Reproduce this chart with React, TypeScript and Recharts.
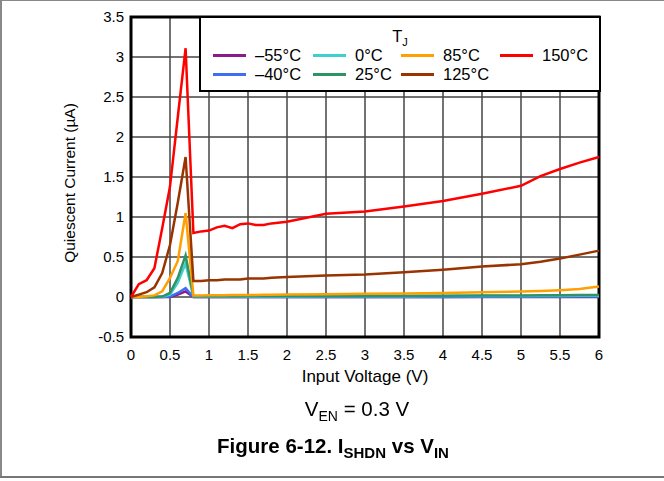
import React from 'react';
import { CartesianGrid, Line, LineChart, ReferenceArea, XAxis, YAxis } from 'recharts';

const vin = [0, 0.1, 0.2, 0.3, 0.4, 0.5, 0.6, 0.7, 0.8, 0.9, 1.0, 1.1, 1.2, 1.3, 1.4, 1.5, 1.6, 1.7, 1.8, 2.0, 2.5, 3.0, 3.5, 4.0, 4.5, 5.0, 5.25, 5.5, 5.75, 6.0];

const iqM55 = [0, 0, 0, 0, 0, 0, 0.03, 0.07, 0, 0, 0, 0, 0, 0, 0, 0, 0, 0, 0, 0, 0, 0, 0, 0, 0, 0, 0, 0, 0, 0];
const iqM40 = [0, 0, 0, 0, 0, 0.005, 0.05, 0.11, 0, 0, 0, 0, 0, 0, 0, 0, 0, 0, 0, 0, 0, 0, 0, 0, 0.003, 0.004, 0.005, 0.005, 0.005, 0.005];
const iq0 = [0, 0, 0, 0, 0.003, 0.03, 0.18, 0.42, 0.005, 0.005, 0.005, 0.005, 0.005, 0.005, 0.005, 0.005, 0.006, 0.006, 0.006, 0.007, 0.008, 0.009, 0.01, 0.011, 0.012, 0.013, 0.014, 0.014, 0.015, 0.015];
const iq25 = [0, 0, 0, 0, 0.005, 0.05, 0.24, 0.52, 0.01, 0.01, 0.01, 0.01, 0.01, 0.01, 0.01, 0.011, 0.011, 0.011, 0.011, 0.012, 0.013, 0.014, 0.015, 0.016, 0.018, 0.02, 0.021, 0.022, 0.024, 0.026];
const iq85 = [0, 0, 0.01, 0.02, 0.07, 0.24, 0.45, 1.05, 0.02, 0.02, 0.022, 0.022, 0.023, 0.024, 0.025, 0.025, 0.026, 0.027, 0.028, 0.03, 0.035, 0.04, 0.045, 0.05, 0.06, 0.07, 0.075, 0.085, 0.1, 0.13];
const iq125 = [0, 0.03, 0.06, 0.12, 0.3, 0.65, 1.18, 1.75, 0.2, 0.2, 0.21, 0.21, 0.22, 0.22, 0.22, 0.23, 0.23, 0.23, 0.24, 0.25, 0.27, 0.28, 0.31, 0.34, 0.38, 0.41, 0.44, 0.48, 0.53, 0.58];
const iq150 = [0, 0.16, 0.21, 0.36, 0.86, 1.38, 2.25, 3.11, 0.8, 0.82, 0.83, 0.87, 0.89, 0.86, 0.91, 0.92, 0.9, 0.9, 0.92, 0.94, 1.04, 1.07, 1.13, 1.2, 1.29, 1.39, 1.51, 1.6, 1.68, 1.75];

const xTicks = [0, 0.5, 1, 1.5, 2, 2.5, 3, 3.5, 4, 4.5, 5, 5.5, 6];
const yTicks = [-0.5, 0, 0.5, 1, 1.5, 2, 2.5, 3, 3.5];

const series = [
  { key: 'm55', name: '\u201355\u00b0C', color: '#8b1a8b', values: iqM55 },
  { key: 'm40', name: '\u201340\u00b0C', color: '#3d6ff0', values: iqM40 },
  { key: 't0', name: '0\u00b0C', color: '#3fcfcf', values: iq0 },
  { key: 't25', name: '25\u00b0C', color: '#2e9466', values: iq25 },
  { key: 't85', name: '85\u00b0C', color: '#ffa000', values: iq85 },
  { key: 't125', name: '125\u00b0C', color: '#993300', values: iq125 },
  { key: 't150', name: '150\u00b0C', color: '#ff0000', values: iq150 },
];

// legend order: column-major, two rows
const legendCols = [
  ['m55', 'm40'],
  ['t0', 't25'],
  ['t85', 't125'],
  ['t150'],
];
const legendColX = [12, 112, 200, 299];

const data = vin.map((v, i) => {
  const row: Record<string, number> = { vin: v };
  series.forEach((s) => {
    row[s.key] = s.values[i];
  });
  return row;
});

const font = '"Liberation Sans", Arial, Helvetica, sans-serif';

function LegendBox() {
  return (
    <div
      style={{
        position: 'absolute',
        left: 199,
        top: 16,
        width: 402,
        height: 76,
        background: '#fff',
        border: '2px solid #000',
        boxSizing: 'border-box',
        fontSize: 16.5,
        color: '#000',
      }}
    >
      <div style={{ position: 'absolute', left: 0, width: '100%', top: 9, textAlign: 'center', lineHeight: '18px' }}>
        T<sub style={{ fontSize: 11, verticalAlign: -4 }}>J</sub>
      </div>
      {legendCols.map((col, ci) =>
        col.map((k, ri) => {
          const s = series.find((q) => q.key === k)!;
          return (
            <div key={k} style={{ position: 'absolute', left: legendColX[ci], top: 28 + ri * 19, height: 18, display: 'flex', alignItems: 'center', whiteSpace: 'nowrap' }}>
              <span style={{ display: 'inline-block', width: 33, height: 3, background: s.color, marginRight: 9 }} />
              <span>{s.name}</span>
            </div>
          );
        })
      )}
    </div>
  );
}

export default function App() {
  return (
    <div style={{ position: 'fixed', left: 0, top: 0, width: 664, height: 481, background: '#fff', fontFamily: font }}>
      <LineChart width={664} height={481} data={data} margin={{ top: 17, right: 65, bottom: 114, left: 91 }}>
        <CartesianGrid stroke="#444" strokeWidth={1.5} horizontalValues={yTicks} verticalValues={xTicks} />
        <XAxis
          dataKey="vin"
          type="number"
          domain={[0, 6]}
          ticks={xTicks}
          axisLine={false}
          tickLine={false}
          tickSize={5}
          tickMargin={7}
          height={30}
          tick={{ fill: '#000', fontSize: 15, fontFamily: font }}
        />
        <YAxis
          type="number"
          domain={[-0.5, 3.5]}
          ticks={yTicks}
          axisLine={false}
          tickLine={false}
          tickSize={5}
          tickMargin={2}
          width={40}
          tick={{ fill: '#000', fontSize: 15, fontFamily: font }}
        />
        {series.map((s) => (
          <Line
            key={s.key}
            dataKey={s.key}
            name={s.name}
            stroke={s.color}
            strokeWidth={2.5}
            dot={false}
            type="linear"
            isAnimationActive={false}
          />
        ))}
        <ReferenceArea x1={0} x2={6} y1={-0.5} y2={3.5} fill="none" stroke="#000" strokeWidth={3} ifOverflow="visible" />
      </LineChart>
      <LegendBox />
      <div
        style={{
          position: 'absolute',
          left: 70,
          top: 183,
          transform: 'translate(-50%, -50%) rotate(-90deg)',
          whiteSpace: 'nowrap',
          fontSize: 15.5,
        }}
      >
        Quiescent Current (µA)
      </div>
      <div style={{ position: 'absolute', left: 131, width: 468, top: 367, textAlign: 'center', fontSize: 17 }}>Input Voltage (V)</div>
      <div style={{ position: 'absolute', left: 0, width: 714, top: 397, textAlign: 'center', fontSize: 20.5 }}>
        V<sub style={{ fontSize: 14, verticalAlign: -5 }}>EN</sub> = 0.3 V
      </div>
      <div style={{ position: 'absolute', left: 0, width: 666, top: 434, textAlign: 'center', fontSize: 20.5, fontWeight: 'bold' }}>
        Figure 6-12. I<sub style={{ fontSize: 15, verticalAlign: -5 }}>SHDN</sub> vs V<sub style={{ fontSize: 15, verticalAlign: -5 }}>IN</sub>
      </div>
      <div style={{ position: 'absolute', left: 0, top: 0, width: 664, height: 1, background: '#888' }} />
      <div style={{ position: 'absolute', left: 0, top: 0, width: 2, height: 478, background: '#888' }} />
      <div style={{ position: 'absolute', left: 0, top: 476, width: 664, height: 2, background: '#777' }} />
    </div>
  );
}
